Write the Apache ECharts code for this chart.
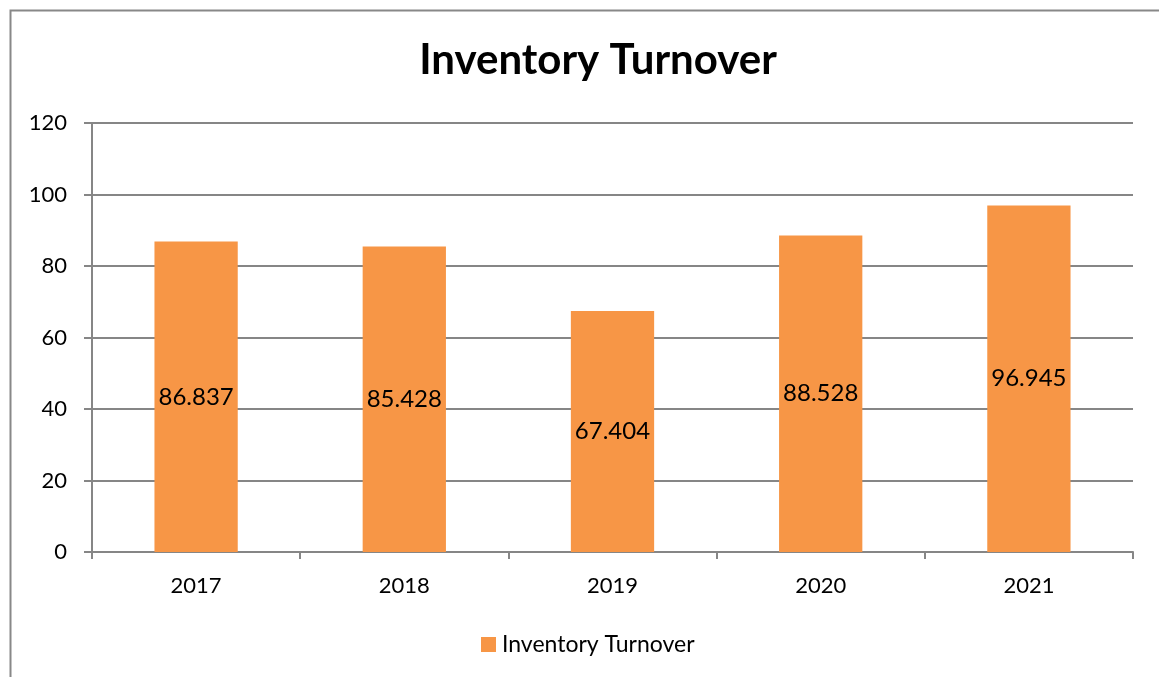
<!DOCTYPE html>
<html><head><meta charset="utf-8">
<script src="https://cdn.jsdelivr.net/npm/echarts@6/dist/echarts.min.js"></script>
<style>html,body{margin:0;padding:0;background:#fff}#c{width:1159px;height:677px}</style>
</head><body><div id="c"></div>
<script>
const categories = ['2017','2018','2019','2020','2021'];
const values = [86.837, 85.428, 67.404, 88.528, 96.945];
const seriesName = 'Inventory Turnover';
const yTicks = {min:0, max:120, interval:20};
const font = 'Lato, "Open Sans", sans-serif';
const chart = echarts.init(document.getElementById('c'));
chart.setOption({
  animation:false,
  title:{text:'Inventory Turnover', left:593, textAlign:'center', top:34, textStyle:{fontFamily:font, fontSize:42, fontWeight:'bold', color:'#000'}},
  graphic:[{type:'rect', shape:{x:10.5,y:10.5,width:1170,height:700}, style:{fill:'none', stroke:'#888', lineWidth:2}}],
  legend:{top:628, left:476, itemWidth:15, itemHeight:15, icon:'rect', itemGap:6, textStyle:{fontFamily:font, fontSize:23, color:'#000', padding:[0,0,0,1]}},
  grid:{left:92, right:26, top:123, bottom:125, containLabel:false},
  xAxis:{type:'category', data:categories,
    axisLine:{lineStyle:{color:'#868686', width:2}},
    axisTick:{show:true, length:7, lineStyle:{color:'#868686', width:2}},
    axisLabel:{fontFamily:font, fontSize:22, color:'#000', margin:23}},
  yAxis:{type:'value', min:yTicks.min, max:yTicks.max, interval:yTicks.interval,
    axisLine:{show:true, lineStyle:{color:'#868686', width:2}},
    axisTick:{show:true, length:8, lineStyle:{color:'#868686', width:2}},
    splitLine:{lineStyle:{color:'#868686', width:2}},
    axisLabel:{fontFamily:font, fontSize:22, color:'#000', margin:25}},
  series:[{name:seriesName, type:'bar', data:values, barWidth:'40%',
    itemStyle:{color:'#F79646'},
    label:{show:true, position:'inside', fontFamily:font, fontSize:24, color:'#000', formatter:p=>p.value.toFixed(3)}}]
});
</script></body></html>
